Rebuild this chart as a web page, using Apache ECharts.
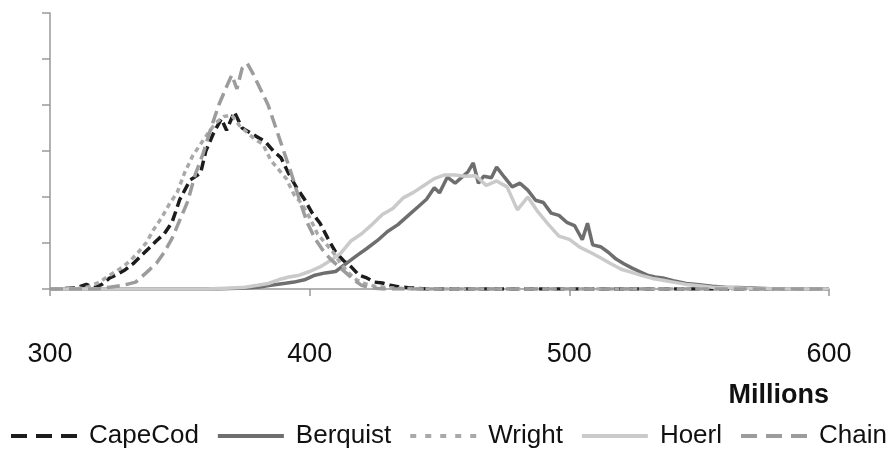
<!DOCTYPE html>
<html>
<head>
<meta charset="utf-8">
<script src="https://cdn.jsdelivr.net/npm/echarts@6/dist/echarts.min.js"></script>
<style>
html,body{margin:0;padding:0;background:#fff;}
#chart{width:893px;height:451px;}
</style>
</head>
<body>
<div id="chart"></div>
<script>
const seriesNames = ['CapeCod', 'Berquist', 'Wright', 'Hoerl', 'Chain'];
const xTicks = [300, 400, 500, 600];

const capeCodX = [300, 310, 314, 317, 320, 323, 326, 329, 332, 335, 338, 341, 344, 347, 350, 354, 358, 360, 363, 366, 368, 371, 374, 377, 380, 383, 386, 389, 392, 395, 398, 401, 404, 407, 410, 413, 416, 419, 422, 425, 428, 431, 434, 438, 445, 600];
const capeCodY = [0, 0.02, 0.1, 0.03, 0.1, 0.24, 0.32, 0.42, 0.55, 0.72, 0.88, 1.05, 1.2, 1.45, 1.95, 2.37, 2.52, 3.0, 3.39, 3.7, 3.45, 3.85, 3.5, 3.4, 3.3, 3.2, 3.0, 2.85, 2.5, 2.2, 1.95, 1.65, 1.43, 1.1, 0.8, 0.62, 0.48, 0.3, 0.24, 0.15, 0.13, 0.08, 0.05, 0.03, 0, 0];

const berquistX = [300, 365, 375, 380, 385, 390, 394, 398, 402, 406, 410, 414, 418, 422, 426, 430, 434, 438, 442, 445, 448, 450, 453, 456, 458, 461, 463, 465, 467, 470, 472, 475, 478, 481, 484, 487, 490, 493, 496, 499, 502, 505, 507, 509, 512, 515, 518, 521, 524, 527, 530, 533, 536, 540, 545, 550, 555, 560, 565, 570, 580, 600];
const berquistY = [0, 0, 0.02, 0.04, 0.08, 0.12, 0.15, 0.2, 0.3, 0.35, 0.38, 0.55, 0.72, 0.88, 1.05, 1.25, 1.4, 1.6, 1.8, 1.95, 2.2, 2.09, 2.43, 2.3, 2.4, 2.55, 2.74, 2.3, 2.45, 2.42, 2.65, 2.43, 2.22, 2.3, 2.15, 1.93, 1.88, 1.65, 1.6, 1.45, 1.38, 1.07, 1.43, 0.96, 0.92, 0.8, 0.65, 0.55, 0.46, 0.38, 0.3, 0.26, 0.24, 0.18, 0.12, 0.09, 0.06, 0.04, 0.03, 0.02, 0, 0];

const wrightX = [300, 310, 315, 319, 323, 328, 331, 334, 337, 340, 343, 346, 349, 352, 355, 358, 361, 364, 367, 370, 373, 376, 379, 382, 385, 388, 391, 394, 397, 400, 403, 406, 409, 412, 415, 418, 421, 425, 430, 440, 600];
const wrightY = [0, 0, 0.05, 0.15, 0.3, 0.48, 0.62, 0.8, 1.0, 1.3, 1.55, 1.85, 2.1, 2.55, 2.9, 3.15, 3.4, 3.62, 3.75, 3.78, 3.55, 3.4, 3.25, 3.15, 2.8, 2.6, 2.4, 2.05, 1.85, 1.55, 1.2, 1.0, 0.8, 0.55, 0.35, 0.2, 0.12, 0.06, 0.03, 0, 0];

const hoerlX = [300, 360, 370, 375, 380, 384, 388, 392, 396, 400, 404, 408, 412, 416, 420, 424, 428, 432, 436, 440, 444, 448, 452, 456, 460, 464, 468, 472, 476, 480, 484, 488, 492, 496, 500, 504, 508, 512, 516, 520, 524, 528, 532, 536, 540, 545, 550, 555, 560, 570, 580, 600];
const hoerlY = [0, 0, 0.02, 0.04, 0.08, 0.12, 0.2, 0.26, 0.3, 0.38, 0.48, 0.62, 0.78, 1.05, 1.2, 1.4, 1.62, 1.75, 1.98, 2.1, 2.25, 2.4, 2.48, 2.48, 2.45, 2.46, 2.25, 2.35, 2.22, 1.72, 2.0, 1.67, 1.4, 1.15, 1.08, 0.91, 0.8, 0.68, 0.55, 0.43, 0.36, 0.29, 0.23, 0.19, 0.15, 0.1, 0.07, 0.04, 0.03, 0.01, 0, 0];

const chainX = [300, 318, 323, 328, 333, 337, 341, 344, 347, 350, 353, 356, 359, 362, 365, 368, 370, 372, 374, 376, 378, 381, 384, 387, 390, 393, 396, 399, 402, 405, 408, 411, 414, 417, 420, 423, 428, 600];
const chainY = [0, 0, 0.04, 0.08, 0.15, 0.35, 0.56, 0.8, 1.1, 1.5, 1.9, 2.5, 2.95, 3.5, 4.0, 4.4, 4.65, 4.35, 4.8, 4.9, 4.7, 4.35, 4.0, 3.5, 3.0, 2.5, 1.95, 1.45, 1.1, 0.85, 0.65, 0.5, 0.35, 0.2, 0.08, 0.03, 0, 0];

function pairs(xs, ys) { return xs.map((x, i) => [x, ys[i]]); }

const styles = {
  CapeCod: { color: '#1c1c1c', type: [10, 5], legendType: [16, 9] },
  Berquist: { color: '#6e6e6e', type: 'solid', legendType: 'solid' },
  Wright: { color: '#a9a9a9', type: [5, 4], legendType: [6, 9] },
  Hoerl: { color: '#cacaca', type: 'solid', legendType: 'solid' },
  Chain: { color: '#9c9c9c', type: [13, 6], legendType: [16, 9] }
};
const dataMap = {
  CapeCod: pairs(capeCodX, capeCodY),
  Berquist: pairs(berquistX, berquistY),
  Wright: pairs(wrightX, wrightY),
  Hoerl: pairs(hoerlX, hoerlY),
  Chain: pairs(chainX, chainY)
};

const FONT = "'Liberation Sans', Arial, sans-serif";
const chart = echarts.init(document.getElementById('chart'), null, { renderer: 'canvas' });
chart.setOption({
  animation: false,
  backgroundColor: '#fff',
  grid: { left: 50, right: 64, top: 13, bottom: 162, containLabel: false },
  title: {
    text: 'Millions', right: 64, top: 382, padding: 0,
    textStyle: { fontFamily: FONT, fontSize: 27, fontWeight: 'bold', color: '#111' }
  },
  legend: {
    data: seriesNames.map(n => ({
      name: n,
      lineStyle: { color: styles[n].color, width: 4, type: styles[n].legendType },
      itemStyle: { opacity: 0 }
    })),
    left: 9, top: 423, padding: 0, width: 884,
    itemWidth: 66, itemHeight: 14, itemGap: 17,
    itemStyle: { opacity: 0 },
    textStyle: { fontFamily: FONT, fontSize: 26, color: '#111', padding: [0, 0, 0, 7] }
  },
  xAxis: {
    type: 'value', min: 300, max: 600, interval: 100,
    axisLine: { show: true, lineStyle: { color: '#999', width: 1.5 } },
    axisTick: { show: true, length: 7, lineStyle: { color: '#999', width: 1.5 } },
    axisLabel: { fontFamily: FONT, fontSize: 27, color: '#111', margin: 52,
      formatter: v => xTicks.includes(v) ? String(v) : '' },
    splitLine: { show: false }
  },
  yAxis: {
    type: 'value', min: 0, max: 6, interval: 1,
    axisLine: { show: true, lineStyle: { color: '#999', width: 1.5 } },
    axisTick: { show: true, length: 8, lineStyle: { color: '#999', width: 1.5 } },
    axisLabel: { show: false },
    splitLine: { show: false }
  },
  series: seriesNames.map(n => ({
    name: n, type: 'line', data: dataMap[n], showSymbol: false, symbol: 'none',
    lineStyle: { color: styles[n].color, width: 3.5, type: styles[n].type },
    itemStyle: { color: styles[n].color }
  }))
});
</script>
</body>
</html>
